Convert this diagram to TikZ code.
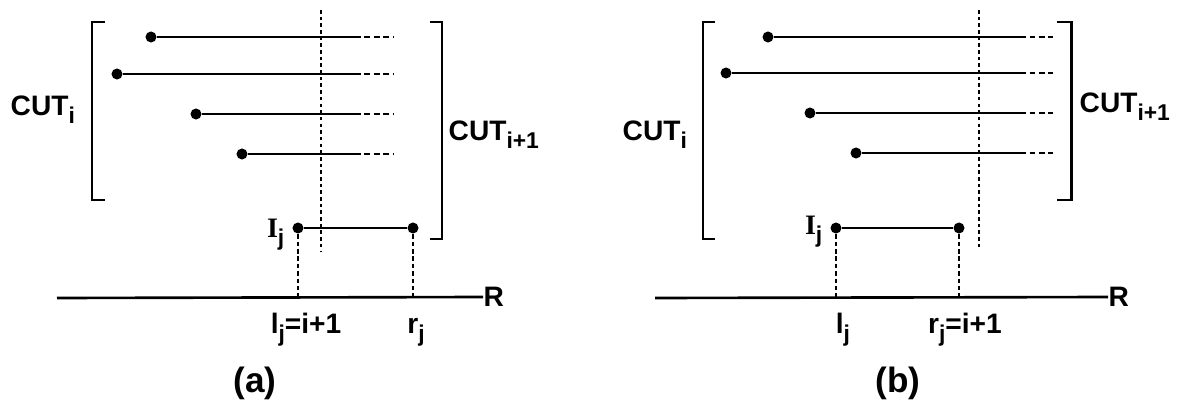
\documentclass[tikz,border=0pt]{standalone}
\usepackage{fontspec}
\setmainfont{Liberation Sans}
\newfontfamily\serI{Liberation Serif}
\usetikzlibrary{positioning}
\newcommand{\lo}[1]{\raisebox{-2.4pt}{\fontsize{6.5}{7}\selectfont #1}}

\begin{document}
\begin{tikzpicture}[
  x=0.01cm, y=-0.01cm,
  dot/.style={circle, fill=black, inner sep=0, minimum size=0.11cm},
  seg/.style={line width=0.75pt},
  ext/.style={line width=0.75pt, dash pattern=on 1.7pt off 1pt},
  cutline/.style={line width=0.8pt, dash pattern=on 1pt off 0.9pt},
  drop/.style={line width=0.75pt, dash pattern=on 1.3pt off 0.8pt},
  brk/.style={line width=0.85pt},
  lbl/.style={font=\fontsize{8}{9}\selectfont\bfseries, inner sep=0},
  sublbl/.style={font=\fontsize{10}{11}\selectfont\bfseries, inner sep=0}
]
\useasboundingbox (0,0) rectangle (1178,403);

% ---------- panel (a) ----------
% Intervals of CUT_i
\foreach \n/\x/\y in {1/151/37, 2/117/74, 3/196/114, 4/242/154} {
  \node[dot] (a\n) at (\x,\y) {};
  \coordinate (as\n) at (355,\y);
  \coordinate (ae\n) at (393,\y);
  \draw[seg] (a\n) -- (as\n);
  \draw[ext] (as\n) -- (ae\n);
}

% Brackets
\draw[brk] (105,22) -| (92,200) -- (105,200);
\draw[brk] (430,22) -| (442,239) -- (430,239);
\node[lbl, anchor=base west] (acut) at (10,115) {CUT\lo{i}};
\node[lbl, anchor=base west] (acutn) at (448,140) {CUT\lo{i+1}};

% Cut line
\coordinate (avt) at (321,10);
\coordinate (avb) at (321,252);
\draw[cutline] (avt) -- (avb);

% Interval I_j
\node[dot] (al) at (298,228) {};
\node[dot] (ar) at (413,228) {};
\draw[seg] (al) -- (ar);
\node[lbl, anchor=base east] (aI) at (285,237) {{\serI I}\lo{j}};

% Axis
\coordinate (aax) at (57,298);
\node[lbl, anchor=west] (aR) at (483,297) {R};
\draw[seg] (aax) -- (aR.west);
\coordinate (alb) at (298,298);
\coordinate (arb) at (413,298);
\draw[drop] (al) -- (alb);
\draw[drop] (ar) -- (arb);
\node[lbl, anchor=base] (alj) at (306,333) {l\lo{j}=i+1};
\node[lbl, anchor=base] (arj) at (416,333) {r\lo{j}};
\node[sublbl] (acap) at (255,383) {(a)};

% ---------- panel (b) ----------
% Intervals of CUT_i
\foreach \n/\x/\y in {1/768/37, 2/726/73, 3/810/113, 4/856/153} {
  \node[dot] (b\n) at (\x,\y) {};
  \coordinate (bs\n) at (1020,\y);
  \coordinate (be\n) at (1053,\y);
  \draw[seg] (b\n) -- (bs\n);
  \draw[ext] (bs\n) -- (be\n);
}

% Brackets
\draw[brk] (715,22) -| (703,239) -- (715,239);
\draw[brk] (1057,22) -| (1071,200) -- (1057,200);
\node[lbl, anchor=base west] (bcut) at (622,140) {CUT\lo{i}};
\node[lbl, anchor=base west] (bcutn) at (1079,112) {CUT\lo{i+1}};

% Cut line
\coordinate (bvt) at (979,10);
\coordinate (bvb) at (979,248);
\draw[cutline] (bvt) -- (bvb);

% Interval I_j
\node[dot] (bl) at (836,228) {};
\node[dot] (br) at (959,228) {};
\draw[seg] (bl) -- (br);
\node[lbl, anchor=base east] (bI) at (823,234) {{\serI I}\lo{j}};

% Axis
\coordinate (bax) at (655,298);
\node[lbl, anchor=west] (bR) at (1108,297) {R};
\draw[seg] (bax) -- (bR.west);
\coordinate (blb) at (836,298);
\coordinate (brb) at (959,298);
\draw[drop] (bl) -- (blb);
\draw[drop] (br) -- (brb);
\node[lbl, anchor=base] (blj) at (843,333) {l\lo{j}};
\node[lbl, anchor=base] (brj) at (965,333) {r\lo{j}=i+1};
\node[sublbl] (bcap) at (898,383) {(b)};
\end{tikzpicture}
\end{document}
